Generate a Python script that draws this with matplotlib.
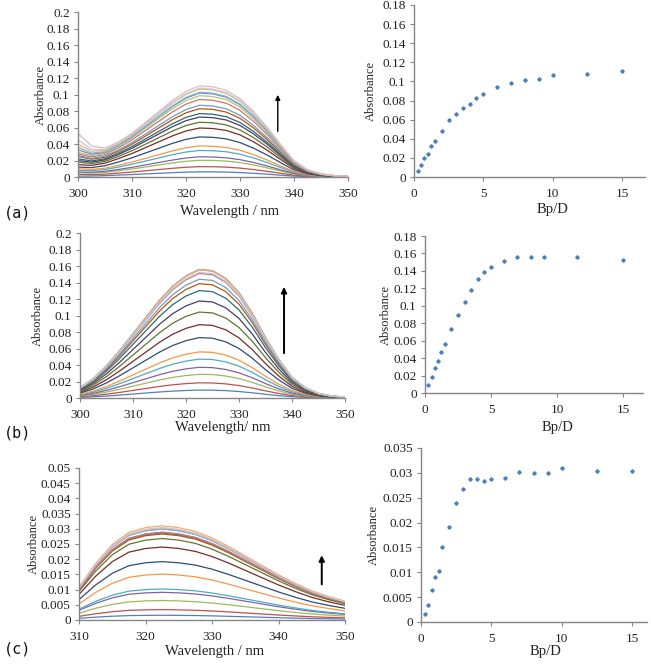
import matplotlib
matplotlib.use("Agg")
import matplotlib.pyplot as plt
import numpy as np
from matplotlib.ticker import MultipleLocator

plt.rcParams["font.family"] = ["Liberation Serif", "DejaVu Serif"]

# titration points (Bp/D ratio vs absorbance at the band maximum)
bpd_a = [0.25, 0.5, 0.75, 1, 1.25, 1.5, 2, 2.5, 3, 3.5, 4, 4.5, 5, 6, 7, 8, 9, 10, 12.5, 15]
abs_a = [0.0063, 0.0126, 0.0203, 0.0245, 0.0322, 0.0377, 0.0486, 0.0594, 0.0664, 0.0727,
         0.0769, 0.0828, 0.087, 0.094, 0.0986, 0.1017, 0.1028, 0.1066, 0.1077, 0.1105]

bpd_b = [0.25, 0.5, 0.75, 1, 1.25, 1.5, 2, 2.5, 3, 3.5, 4, 4.5, 5, 6, 7, 8, 9, 11.5, 15]
abs_b = [0.0096, 0.0184, 0.0287, 0.0372, 0.0471, 0.0559, 0.0732, 0.0889, 0.1042, 0.1176,
         0.1302, 0.1386, 0.144, 0.1509, 0.1555, 0.1559, 0.1555, 0.1555, 0.1524]

bpd_c = [0.25, 0.5, 0.75, 1, 1.25, 1.5, 2, 2.5, 3, 3.5, 4, 4.5, 5, 6, 7, 8, 9, 10, 12.5, 15]
abs_c = [0.00155, 0.0034, 0.0064, 0.0091, 0.0102, 0.0151, 0.0192, 0.024, 0.0268, 0.0287,
         0.0287, 0.0283, 0.0288, 0.0289, 0.0302, 0.030, 0.0299, 0.031, 0.0304, 0.0303]

# band profiles (normalised to the maximum)
wl_ab = [300, 302.5, 305, 307.5, 310, 312.5, 315, 317.5, 320, 322.5, 325, 327.5, 330,
         332.5, 335, 337.5, 340, 342.5, 345, 347.5, 350]
band_a = [0.10, 0.17, 0.26, 0.37, 0.48, 0.60, 0.72, 0.84, 0.94, 1.0, 0.99, 0.95, 0.86,
          0.72, 0.55, 0.36, 0.18, 0.08, 0.035, 0.015, 0.008]
tail_a = [1.0, 0.45, 0.15, 0.04, 0, 0, 0, 0, 0, 0, 0, 0, 0, 0, 0, 0, 0, 0, 0, 0, 0]
# absorbance at 300 nm of each spectrum in (a), bottom to top
a300 = [0.001, 0.003, 0.005, 0.006, 0.008, 0.010, 0.012, 0.015, 0.018, 0.020,
        0.022, 0.025, 0.026, 0.028, 0.030, 0.033, 0.036, 0.040, 0.045, 0.053]
band_b = [0.08, 0.15, 0.25, 0.37, 0.50, 0.63, 0.76, 0.87, 0.95, 1.0, 0.99, 0.93, 0.82,
          0.66, 0.47, 0.30, 0.16, 0.08, 0.035, 0.015, 0.007]
wl_c = [310, 312.5, 315, 317.5, 320, 322.5, 325, 327.5, 330, 332.5, 335, 337.5, 340,
        342.5, 345, 347.5, 350]
band_c = [0.35, 0.60, 0.80, 0.93, 0.98, 1.0, 0.98, 0.94, 0.87, 0.78, 0.68, 0.58, 0.48,
          0.39, 0.31, 0.25, 0.20]

# Excel-style series colours: base, darker, lighter, lightest
excel = ["#4F81BD", "#C0504D", "#9BBB59", "#8064A2", "#4BACC6", "#F79646",
         "#2C4D75", "#772C2A", "#5F7530", "#4D3B62", "#276A7C", "#B65708",
         "#729ACA", "#CD7371", "#AFC97A", "#9983B5", "#6FBDD1", "#F9AB6B",
         "#B9CDE5", "#E6B9B8", "#D7E4BD", "#CCC1DA", "#B7DEE8", "#FCD5B5"]

AX_GREY = "#868686"


def gfmt(v, pos):
    return "%g" % v


def style_axes(ax, ylim, ystep, xlim, xstep):
    for side in ("top", "right"):
        ax.spines[side].set_visible(False)
    for side in ("left", "bottom"):
        ax.spines[side].set_color(AX_GREY)
        ax.spines[side].set_linewidth(1.0)
    ax.set_ylim(*ylim)
    ax.set_xlim(*xlim)
    ax.yaxis.set_major_locator(MultipleLocator(ystep))
    ax.xaxis.set_major_locator(MultipleLocator(xstep))
    ax.yaxis.set_major_formatter(plt.FuncFormatter(gfmt))
    ax.tick_params(axis="both", colors=AX_GREY, labelcolor="#222222", labelsize=9.5,
                   direction="out", length=3)
    ax.tick_params(axis="y", pad=3)
    ax.tick_params(axis="x", pad=5)
    ax.set_facecolor("none")


def set_labels(ax, xlabel, xpos, ylabel, ypos):
    ax.set_xlabel(xlabel, fontsize=10.5, color="#222222")
    ax.xaxis.set_label_coords(*xpos)
    ax.xaxis.label.set_va("center")
    ax.set_ylabel(ylabel, fontsize=9, color="#222222")
    ax.yaxis.set_label_coords(*ypos)
    ax.yaxis.label.set_va("center")


fig = plt.figure(figsize=(6.51, 6.66), dpi=100)

# ---- (a) spectra ----
ax1 = fig.add_axes([0.1198, 0.7342, 0.4147, 0.2477])
wl = np.array(wl_ab)
for i, (pk, v300) in enumerate(zip(abs_a, a300)):
    band = pk * np.array(band_a)
    spec = band + (v300 - band[0]) * np.array(tail_a)
    ax1.plot(wl, spec, color=excel[i % len(excel)], lw=0.9)
style_axes(ax1, (0, 0.2), 0.02, (300, 350), 10)
set_labels(ax1, "Wavelength / nm", (0.56, -0.21), "Absorbance", (-0.137, 0.5))
ax1.annotate("", xy=(337, 0.103), xytext=(337, 0.052),
             arrowprops=dict(arrowstyle="-|>", color="black", lw=1.0, mutation_scale=7))

# ---- (a) titration ----
ax2 = fig.add_axes([0.636, 0.7342, 0.3548, 0.2583])
ax2.plot(bpd_a, abs_a, linestyle="none", marker="D", markersize=1.8, color="#4F81BD")
style_axes(ax2, (0, 0.18), 0.02, (0, 16.65), 5)
set_labels(ax2, "Bp/D", (0.6, -0.19), "Absorbance", (-0.186, 0.5))

# ---- (b) spectra ----
ax3 = fig.add_axes([0.1229, 0.4024, 0.407, 0.2477])
for i, pk in enumerate(abs_b):
    ax3.plot(wl, pk * np.array(band_b), color=excel[i % len(excel)], lw=0.9)
style_axes(ax3, (0, 0.2), 0.02, (300, 350), 10)
set_labels(ax3, "Wavelength/ nm", (0.54, -0.18), "Absorbance", (-0.158, 0.5))
ax3.annotate("", xy=(338.5, 0.138), xytext=(338.5, 0.051),
             arrowprops=dict(arrowstyle="-|>", color="black", lw=1.4, mutation_scale=8))

# ---- (b) titration ----
ax4 = fig.add_axes([0.6528, 0.4099, 0.3349, 0.2357])
ax4.plot(bpd_b, abs_b, linestyle="none", marker="D", markersize=1.8, color="#4F81BD")
style_axes(ax4, (0, 0.18), 0.02, (0, 16.5), 5)
set_labels(ax4, "Bp/D", (0.61, -0.22), "Absorbance", (-0.18, 0.5))

# ---- (c) spectra ----
ax5 = fig.add_axes([0.1214, 0.0691, 0.4086, 0.2282])
wlc = np.array(wl_c)
for i, pk in enumerate(abs_c):
    ax5.plot(wlc, pk * np.array(band_c), color=excel[i % len(excel)], lw=0.9)
style_axes(ax5, (0, 0.05), 0.005, (310, 350), 10)
set_labels(ax5, "Wavelength / nm", (0.51, -0.21), "Absorbance", (-0.17, 0.5))
ax5.annotate("", xy=(346.5, 0.0222), xytext=(346.5, 0.0108),
             arrowprops=dict(arrowstyle="-|>", color="black", lw=1.4, mutation_scale=8))

# ---- (c) titration ----
ax6 = fig.add_axes([0.6467, 0.0661, 0.3472, 0.2613])
ax6.plot(bpd_c, abs_c, linestyle="none", marker="D", markersize=1.8, color="#4F81BD")
style_axes(ax6, (0, 0.035), 0.005, (0, 16.07), 5)
set_labels(ax6, "Bp/D", (0.55, -0.17), "Absorbance", (-0.21, 0.5))

# panel letters
for label, ypx in (("(a)", 213), ("(b)", 433), ("(c)", 649)):
    fig.text(4 / 651, 1 - ypx / 666, label, family="DejaVu Sans Mono", fontsize=11,
             va="center", ha="left", color="#111111")

fig.savefig("out.png", dpi=100)
